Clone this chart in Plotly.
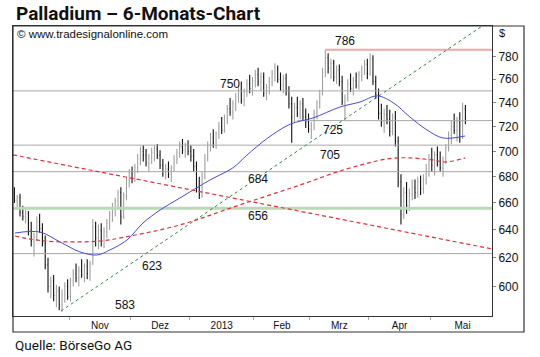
import numpy as np
import pandas as pd
import plotly.graph_objects as go

# ---------------- data ----------------
START_DATE = "2012-10-04"
AXIS_END_DATE = "2013-05-31"

OPEN = [668,662,664,653,650,652,640,632,635,646,641,630,615,600,604,594,597,588,
        595,600,593,604,609,606,611,608,614,609,616,642,634,640,632,639,645,651,657,662,668,650,
        665,677,683,679,687,694,700,697,691,695,699,702,697,689,684,686,682,687,694,699,
        704,701,705,700,696,688,672,666,680,695,705,711,707,714,720,717,727,735,732,739,
        745,751,742,749,756,752,759,764,758,762,748,753,758,765,769,760,755,761,750,739,
        728,736,731,739,728,724,718,721,731,740,748,766,779,770,774,762,768,758,741,744,
        756,752,759,755,764,769,773,765,778,758,747,731,724,730,726,716,728,708,676,652,
        668,658,667,672,668,676,671,678,686,694,689,697,692,687,692,703,713,720,717,724,
        712,735]
HIGH = [672,666,667,658,655,654,646,638,650,652,645,636,620,607,608,601,600,598,
        603,605,606,612,616,614,619,616,619,618,648,646,644,645,642,648,654,660,664,670,672,668,
        680,686,688,690,698,704,705,702,698,703,705,706,701,694,690,692,689,697,702,708,
        710,707,709,705,702,692,680,684,698,708,715,718,716,724,728,730,738,744,742,748,
        755,758,752,760,764,762,768,770,766,766,756,762,768,774,772,766,764,765,754,745,
        740,745,742,744,735,731,724,734,742,751,770,786,783,778,777,772,773,763,747,760,
        765,762,766,767,772,777,778,783,781,763,752,739,735,738,734,731,733,712,682,672,
        676,671,678,678,680,681,682,690,698,703,700,704,700,696,706,716,725,731,728,732,
        740,738]
LOW = [660,655,650,647,645,636,628,621,632,638,628,612,596,592,590,586,584,583,
       589,591,590,600,603,600,606,603,605,604,615,628,626,628,627,634,640,646,650,656,644,648,
       662,672,675,676,683,689,692,688,684,690,692,694,686,680,678,679,676,684,690,695,
       698,695,697,692,684,668,663,664,678,692,700,703,702,710,714,715,722,729,726,733,
       740,739,737,745,748,746,753,754,750,745,742,747,754,758,757,750,748,746,735,707,
       723,728,726,725,719,715,710,717,726,735,746,762,765,760,758,756,754,738,725,741,
       749,746,752,751,758,764,760,763,755,743,726,720,715,722,712,713,704,672,644,648,
       652,654,662,663,664,666,667,674,680,684,681,688,684,680,690,700,706,714,708,707,
       710,722]
CLOSE = [662,664,653,650,652,640,632,635,646,641,630,615,600,604,594,597,588,595,
         600,593,604,609,606,611,608,614,609,616,642,634,640,632,639,645,651,657,662,668,650,665,
         677,683,679,687,694,700,697,691,695,699,702,697,689,684,686,682,687,694,699,704,
         701,705,700,696,688,672,666,680,695,705,711,707,714,720,717,727,735,732,739,745,
         751,742,749,756,752,759,764,758,762,748,753,758,765,769,760,755,761,750,739,728,
         736,731,739,728,724,718,721,731,740,748,766,779,770,774,762,768,758,741,744,756,
         752,759,755,764,769,773,765,778,758,747,731,724,730,726,716,728,708,676,652,668,
         658,667,672,668,676,671,678,686,694,689,697,692,687,692,703,713,720,717,724,712,
         735,727]

# moving averages (bar index, value)
MA_BLUE_X = [0.2, 9.1, 16.3, 23.4, 29.5, 34.1, 40.2, 45.9, 52.0, 59.1, 69.8, 78.0, 83.0,
             90.0, 98.4, 106.6, 116.2, 123.4, 129.5, 135.2, 141.2, 147.3, 153.0, 160.9]
MA_BLUE_Y = [637.8, 638.5, 631.3, 624.2, 622.0, 625.6, 632.7, 645.1, 654.7, 663.8, 677.5, 687.0, 697.0,
             710.0, 722.0, 727.2, 736.3, 740.6, 745.7, 740.0, 728.0, 717.3, 710.8, 712.4]
MA_RED_X = [0.2, 10.9, 30.6, 41.3, 59.1, 80.5, 102.0, 119.8, 135.9, 149.4, 153.7, 160.9]
MA_RED_Y = [635.6, 632.0, 632.0, 635.6, 643.7, 658.6, 673.7, 686.9, 694.7, 693.2, 691.6, 694.7]

# trend lines (bar index, value)
TREND_GREEN_X = [16.6, 167.0]
TREND_GREEN_Y = [583.5, 807.6]
TREND_RED_X = [-0.5, 170.5]
TREND_RED_Y = [697.2, 626.3]

# horizontal levels
LEVELS = [786, 750, 725, 705, 684, 656, 623]
LEVEL_START = [110.9, -0.5, 101.0, -0.5, -0.5, -0.5, -0.5]
LEVEL_LABEL_X = [118.0, 77.0, 113.7, 112.7, 87.0, 87.0, 49.1]
LEVEL_LABEL_SHIFT = [9, 7, -9, -10, -7, -8, -12]
LOW_LABEL = 583
LOW_LABEL_X = 39.5

MONTH_LABELS = ["Nov", "Dez", "2013", "Feb", "Mrz", "Apr", "Mai"]
Y_TICKS = [600, 620, 640, 660, 680, 700, 720, 740, 760, 780]
Y_RANGE = [580.2, 807.6]

# ---------------- derived ----------------
bar_x = list(range(len(CLOSE)))
axis_dates = pd.bdate_range(START_DATE, AXIS_END_DATE)
months = axis_dates.to_period("M")
starts = [i for i in range(1, len(axis_dates)) if months[i] != months[i - 1]]
bounds = [s - 0.5 for s in starts] + [len(axis_dates) - 0.5]
label_pos = [(bounds[k] + bounds[k + 1]) / 2 for k in range(len(MONTH_LABELS))]
x_range = [-0.5, 170.5]

FONT = "Arial, Liberation Sans, sans-serif"
RED_DASH = "4px,3px"

fig = go.Figure()

# level lines
for lv, st in zip(LEVELS, LEVEL_START):
    if lv == 786:
        col, w = "#f2a6a6", 2.2
    elif lv == 656:
        col, w = "#b9d9b4", 3
    else:
        col, w = "#a8a8a8", 1
    fig.add_trace(go.Scatter(x=[st, x_range[1]], y=[lv, lv], mode="lines",
                             line=dict(color=col, width=w), hoverinfo="skip", showlegend=False))

# price bars
fig.add_trace(go.Ohlc(x=bar_x, open=OPEN, high=HIGH, low=LOW, close=CLOSE,
                      increasing=dict(line=dict(color="#a0a0a0", width=1.1)),
                      decreasing=dict(line=dict(color="#111111", width=1.1)),
                      tickwidth=0.25, showlegend=False))

# moving averages
fig.add_trace(go.Scatter(x=MA_BLUE_X, y=MA_BLUE_Y, mode="lines", line_shape="spline",
                         line=dict(color="#4a4ad8", width=1), showlegend=False, hoverinfo="skip"))
fig.add_trace(go.Scatter(x=MA_RED_X, y=MA_RED_Y, mode="lines", line_shape="spline",
                         line=dict(color="#e0303a", width=1.2, dash=RED_DASH), showlegend=False,
                         hoverinfo="skip"))
# trend lines
fig.add_trace(go.Scatter(x=TREND_GREEN_X, y=TREND_GREEN_Y, mode="lines",
                         line=dict(color="#2f8a3a", width=1, dash="dot"), showlegend=False,
                         hoverinfo="skip"))
fig.add_trace(go.Scatter(x=TREND_RED_X, y=TREND_RED_Y, mode="lines",
                         line=dict(color="#e0303a", width=1.2, dash=RED_DASH), showlegend=False,
                         hoverinfo="skip"))

annotations = []
for lv, lx, sh in zip(LEVELS, LEVEL_LABEL_X, LEVEL_LABEL_SHIFT):
    annotations.append(dict(x=lx, y=np.log10(lv), xref="x", yref="y", text=str(lv),
                            showarrow=False, yshift=sh, font=dict(family=FONT, size=12, color="#111")))
annotations.append(dict(x=LOW_LABEL_X, y=np.log10(LOW_LABEL), xref="x", yref="y", text=str(LOW_LABEL),
                        showarrow=False, yshift=7, font=dict(family=FONT, size=12, color="#111")))

PW, PH = 479, 290
annotations += [
    dict(x=(14 - 13) / PW, y=1 + (26 - 13) / PH, xref="paper", yref="paper", xanchor="left",
         yanchor="middle", showarrow=False, text="<b>Palladium – 6-Monats-Chart</b>",
         font=dict(family="Roboto, sans-serif", size=19, color="#111")),
    dict(x=(13 - 13) / PW, y=-(345 - 316) / PH, xref="paper", yref="paper", xanchor="left",
         yanchor="middle", showarrow=False, text="Quelle: BörseGo AG",
         font=dict(family="Roboto, sans-serif", size=13.5, color="#111")),
    dict(x=(15 - 13) / PW, y=1 - (34 - 26) / PH, xref="paper", yref="paper", xanchor="left",
         yanchor="middle", showarrow=False, text="© www.tradesignalonline.com",
         font=dict(family=FONT, size=11.5, color="#111")),
    dict(x=(497 - 13) / PW, y=1 - (33 - 26) / PH, xref="paper", yref="paper", xanchor="left",
         yanchor="middle", showarrow=False, text="$",
         font=dict(family=FONT, size=11, color="#111")),
]

shapes = [dict(type="rect", xref="paper", yref="paper", x0=0, x1=(524 - 13) / PW,
               y0=-(332 - 316) / PH, y1=1, line=dict(color="#333", width=1.2), fillcolor="rgba(0,0,0,0)")]

fig.update_layout(
    width=540, height=357,
    margin=dict(l=13, r=48, t=26, b=41),
    paper_bgcolor="white", plot_bgcolor="white",
    showlegend=False, hovermode=False,
    annotations=annotations, shapes=shapes,
    xaxis=dict(range=x_range, showgrid=False, zeroline=False, rangeslider=dict(visible=False),
               tickvals=label_pos, ticktext=MONTH_LABELS, ticks="", ticklen=0,
               tickfont=dict(family=FONT, size=10, color="#111"), automargin=False,
               showline=True, mirror=True, linecolor="#333", linewidth=1,
               minor=dict(tickvals=bounds[:-1], ticks="outside", ticklen=3, tickcolor="#aaa", showgrid=False)),
    yaxis=dict(type="log", range=[np.log10(Y_RANGE[0]), np.log10(Y_RANGE[1])], side="right",
               tickvals=Y_TICKS, ticktext=[str(v) for v in Y_TICKS], ticks="outside", ticklen=3,
               tickcolor="#888", showgrid=False, zeroline=False, automargin=False,
               tickfont=dict(family=FONT, size=12, color="#111"),
               showline=True, mirror=True, linecolor="#333", linewidth=1),
)

# remove the browser's default 8px page margin so the figure sits at the window's corner
fig.write_html("out.html", config={"displayModeBar": False},
               post_script="document.body.style.margin='0px';")
